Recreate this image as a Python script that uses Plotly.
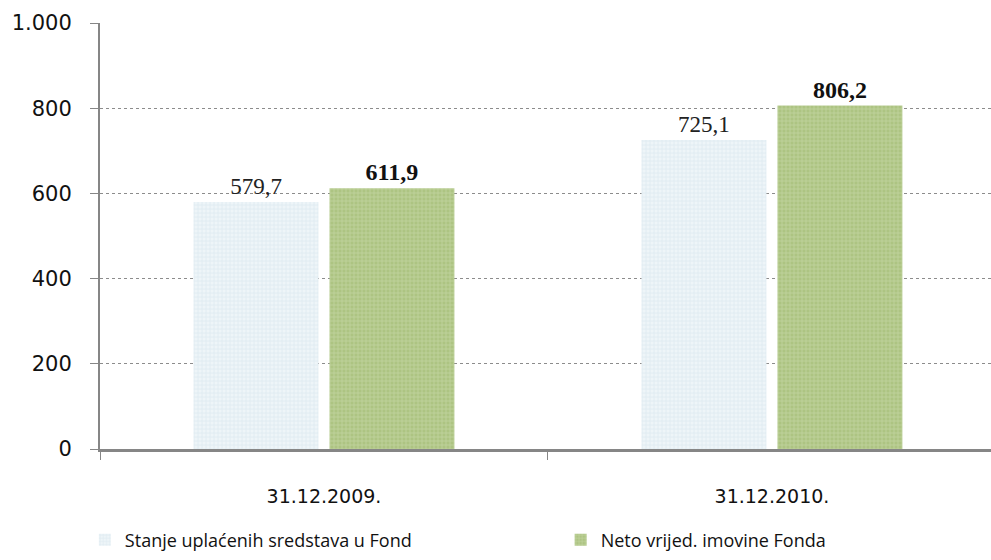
import plotly.graph_objects as go

categories = ["31.12.2009.", "31.12.2010."]
series_names = ["Stanje uplaćenih sredstava u Fond", "Neto vrijed. imovine Fonda"]
uplaceno = [579.7, 725.1]
neto = [611.9, 806.2]
y_ticks = [0, 200, 400, 600, 800, 1000]

fig = go.Figure()
fig.add_trace(go.Bar(
    name=series_names[0], x=categories, y=uplaceno, legend="legend",
    marker=dict(color="#e9f2f6", line=dict(width=0),
                pattern=dict(shape="+", fgcolor="#d0e2ea", bgcolor="#eef5f8", size=4, solidity=0.4)),
    texttemplate="%{y:.1f}", textposition="outside", cliponaxis=False,
    textfont=dict(family="Liberation Serif", size=23, color="#222222"),
))
fig.add_trace(go.Bar(
    name=series_names[1], x=categories, y=neto, legend="legend2",
    marker=dict(color="#b5ca8c", line=dict(width=0),
                pattern=dict(shape="+", fgcolor="#d6e3bd", bgcolor="#adc482", size=4, solidity=0.35)),
    texttemplate="<b>%{y:.1f}</b>", textposition="outside", cliponaxis=False,
    textfont=dict(family="Liberation Serif", size=24, color="#111111"),
))

legend_common = dict(orientation="h", xanchor="left", y=-0.214, yanchor="middle",
                     font=dict(family="Open Sans", size=18, color="#111111"),
                     itemwidth=30, bgcolor="rgba(0,0,0,0)")

fig.update_layout(
    width=991, height=560,
    margin=dict(l=100, r=0, t=23, b=111),
    paper_bgcolor="white", plot_bgcolor="white",
    separators=",.",
    barmode="group", bargap=0.393, bargroupgap=0.081,
    showlegend=True,
    legend=dict(x=-0.017, **legend_common),
    legend2=dict(x=0.517, **legend_common),
    font=dict(family="DejaVu Sans", color="#111111"),
)
fig.update_yaxes(
    range=[0, 1000], tickvals=y_ticks, tickformat=",d", automargin=False,
    showgrid=True, gridcolor="#8c8c8c", griddash="dot", gridwidth=1,
    showline=True, linecolor="#868686", linewidth=2,
    ticks="outside", ticklen=8, tickcolor="#868686", tickwidth=1,
    tickfont=dict(family="DejaVu Sans", size=21, color="#111111"),
    ticklabelstandoff=14,
    zeroline=False,
)
fig.update_xaxes(
    automargin=False, range=[-0.5, 1.489],
    showline=True, linecolor="#868686", linewidth=3,
    ticks="outside", tickson="boundaries", ticklen=8, tickcolor="#868686", tickwidth=1,
    tickfont=dict(family="DejaVu Sans", size=19, color="#111111"),
    ticklabelstandoff=28,
    showgrid=False,
)
fig.write_html("out.html", config={"displayModeBar": False},
               post_script="document.body.style.margin='0';")
